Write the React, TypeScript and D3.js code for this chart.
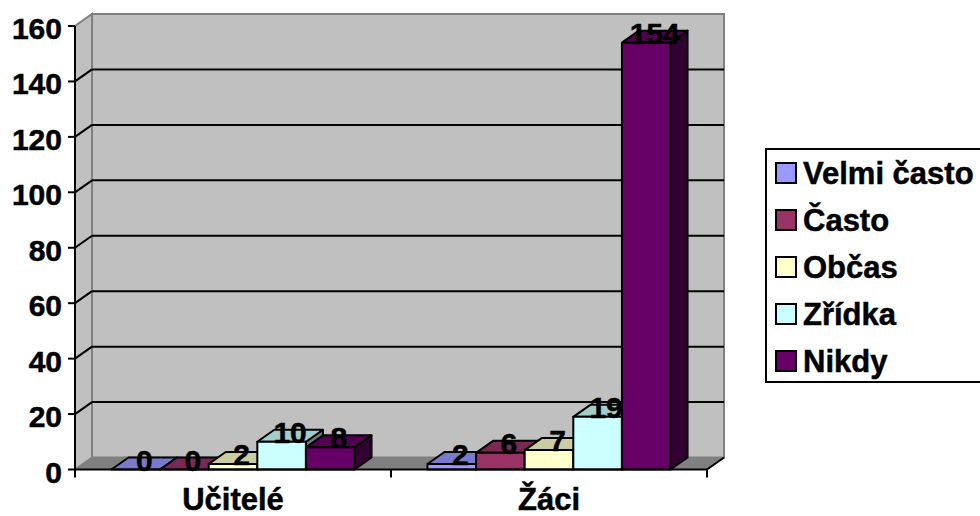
import React from "react";
import * as d3 from "d3";

// Survey answers per group
const categories = ["Učitelé", "Žáci"];
const seriesNames = ["Velmi často", "Často", "Občas", "Zřídka", "Nikdy"];
const seriesColors = ["#9999FF", "#993366", "#FFFFCC", "#CCFFFF", "#660066"];
const ucitele = [0, 0, 2, 10, 8];
const zaci = [2, 6, 7, 19, 154];
const yTicks = [0, 20, 40, 60, 80, 100, 120, 140, 160];

const W = 980;
const H = 516;
const FONT = "'Liberation Sans', Arial, sans-serif";

// plot frame (front plane) and the oblique depth offset
const X0 = 75;
const X1 = 707;
const Y0 = 469.5;
const Y1 = 26;
const DX = 17;
const DY = 12;

const textStyle = {
  fontFamily: FONT,
  fontWeight: "bold" as const,
  stroke: "#000",
  strokeWidth: 0.5,
  fill: "#000",
};

function shade(c: string, k: number) {
  const col = d3.rgb(c);
  return d3.rgb(col.r * k, col.g * k, col.b * k).formatHex();
}

export default function App() {
  const values = [ucitele, zaci];
  const x = d3.scaleBand<string>().domain(categories).range([X0, X1]);
  // 150% gap width: each group = 5 bars + 1.5 bar widths of gap
  const barW = x.bandwidth() / (seriesNames.length + 1.5);
  const y = d3.scaleLinear().domain([0, 160]).range([Y0, Y1]);

  const bars: { x0: number; x1: number; yt: number; v: number; i: number }[] = [];
  categories.forEach((c, ci) => {
    const start = (x(c) as number) + barW * 0.75;
    values[ci].forEach((v, i) => {
      bars.push({ x0: start + i * barW, x1: start + (i + 1) * barW, yt: y(v), v, i });
    });
  });

  const y0 = y(0);

  return (
    <div style={{ position: "absolute", left: 0, top: 0, width: W, height: H, overflow: "hidden", background: "#fff" }}>
      <svg width={W} height={H} style={{ display: "block" }}>
        {/* back wall */}
        <rect x={X0 + DX} y={y(160) - DY} width={X1 - X0} height={y0 - y(160)} fill="#C0C0C0" stroke="#808080" strokeWidth={2} />
        {/* side wall */}
        <polygon
          points={`${X0},${y0} ${X0},${y(160)} ${X0 + DX},${y(160) - DY} ${X0 + DX},${y0 - DY}`}
          fill="#C0C0C0"
          stroke="#808080"
          strokeWidth={2}
        />
        {/* floor */}
        <polygon
          points={`${X0},${y0} ${X1},${y0} ${X1 + DX},${y0 - DY} ${X0 + DX},${y0 - DY}`}
          fill="#808080"
          stroke="#808080"
          strokeWidth={1}
        />
        <line x1={X1} y1={y0} x2={X1 + DX} y2={y0 - DY} stroke="#000" strokeWidth={2} />
        {/* gridlines */}
        {yTicks
          .filter((t) => t > 0 && t < 160)
          .map((t) => (
            <g key={t}>
              <line x1={X0 + DX} x2={X1 + DX} y1={y(t) - DY} y2={y(t) - DY} stroke="#000" strokeWidth={2} />
              <line x1={X0} x2={X0 + DX} y1={y(t)} y2={y(t) - DY} stroke="#000" strokeWidth={2} />
            </g>
          ))}
        {/* bars */}
        {bars.map((b, k) => {
          const c = seriesColors[b.i];
          return (
            <g key={k} stroke="#000" strokeWidth={2} strokeLinejoin="round">
              <polygon
                points={`${b.x1},${y0} ${b.x1},${b.yt} ${b.x1 + DX},${b.yt - DY} ${b.x1 + DX},${y0 - DY}`}
                fill={shade(c, 0.5)}
              />
              <polygon
                points={`${b.x0},${b.yt} ${b.x1},${b.yt} ${b.x1 + DX},${b.yt - DY} ${b.x0 + DX},${b.yt - DY}`}
                fill={shade(c, 0.8)}
              />
              {b.v > 0 && <rect x={b.x0} y={b.yt} width={b.x1 - b.x0} height={y0 - b.yt} fill={c} />}
            </g>
          );
        })}
        {/* axes */}
        <line x1={X0} x2={X1} y1={y0} y2={y0} stroke="#000" strokeWidth={2} />
        <line x1={X0} x2={X0} y1={y(160)} y2={y0 + 8} stroke="#000" strokeWidth={2} />
        {[X0 + x.bandwidth(), X1].map((tx) => (
          <line key={tx} x1={tx} x2={tx} y1={y0} y2={y0 + 8} stroke="#000" strokeWidth={2} />
        ))}
        {yTicks.map((t) => (
          <g key={t}>
            <line x1={X0 - 7} x2={X0} y1={y(t)} y2={y(t)} stroke="#000" strokeWidth={2} />
            <text x={62} y={y(t) + 13} textAnchor="end" fontSize={30} {...textStyle}>
              {t}
            </text>
          </g>
        ))}
        {categories.map((c) => (
          <text key={c} x={(x(c) as number) + x.bandwidth() / 2} y={510} textAnchor="middle" fontSize={31} {...textStyle}>
            {c}
          </text>
        ))}
        {/* value labels */}
        {bars.map((b, k) => (
          <text key={k} x={(b.x0 + b.x1) / 2 + DX / 2} y={b.yt + 1} textAnchor="middle" fontSize={30} {...textStyle}>
            {b.v}
          </text>
        ))}
        {/* legend */}
        <rect x={766} y={149} width={260} height={233} fill="#fff" stroke="#000" strokeWidth={2} />
        {seriesNames.map((s, i) => {
          const cy = 173 + i * 47;
          return (
            <g key={s}>
              <rect x={776} y={cy - 10} width={20} height={20} fill={seriesColors[i]} stroke="#000" strokeWidth={2} />
              <text x={803} y={cy + 11} fontSize={31} {...textStyle}>
                {s}
              </text>
            </g>
          );
        })}
      </svg>
    </div>
  );
}
